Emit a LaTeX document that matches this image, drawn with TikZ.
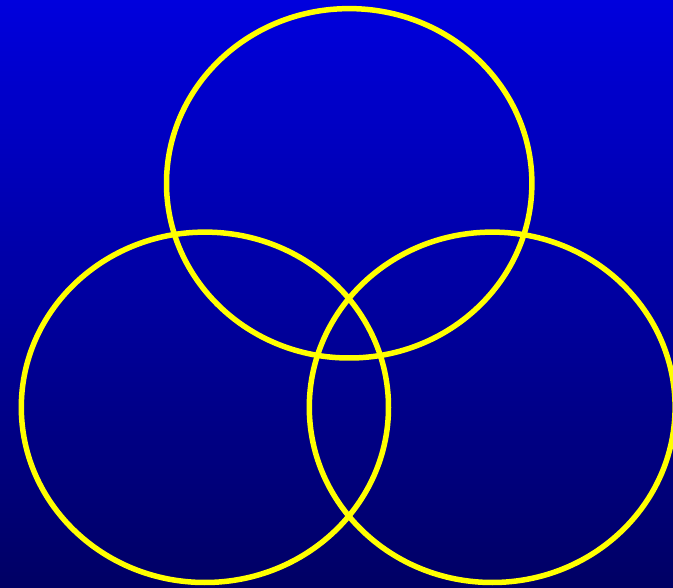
\documentclass[tikz,border=0pt]{standalone}
\usepackage{tikz}
\usetikzlibrary{backgrounds}
\definecolor{skyTop}{HTML}{0000DD}
\definecolor{skyBottom}{HTML}{000064}
\definecolor{ringYellow}{HTML}{FFFF00}

\begin{document}
\begin{tikzpicture}[x=1pt, y=-1pt, ring/.style={draw=ringYellow, line width=5.5pt}]
    \shade[top color=skyTop, bottom color=skyBottom] (0,0) rectangle (673,588);
    \useasboundingbox (0,0) rectangle (673,588);
    \draw[ring] (349.2,183.3) ellipse [x radius=182.7, y radius=174.7];
    \draw[ring] (204.9,407.3) ellipse [x radius=183.6, y radius=175.2];
    \draw[ring] (492.2,407.3) ellipse [x radius=182.9, y radius=175.2];
  \end{tikzpicture}
\end{document}
